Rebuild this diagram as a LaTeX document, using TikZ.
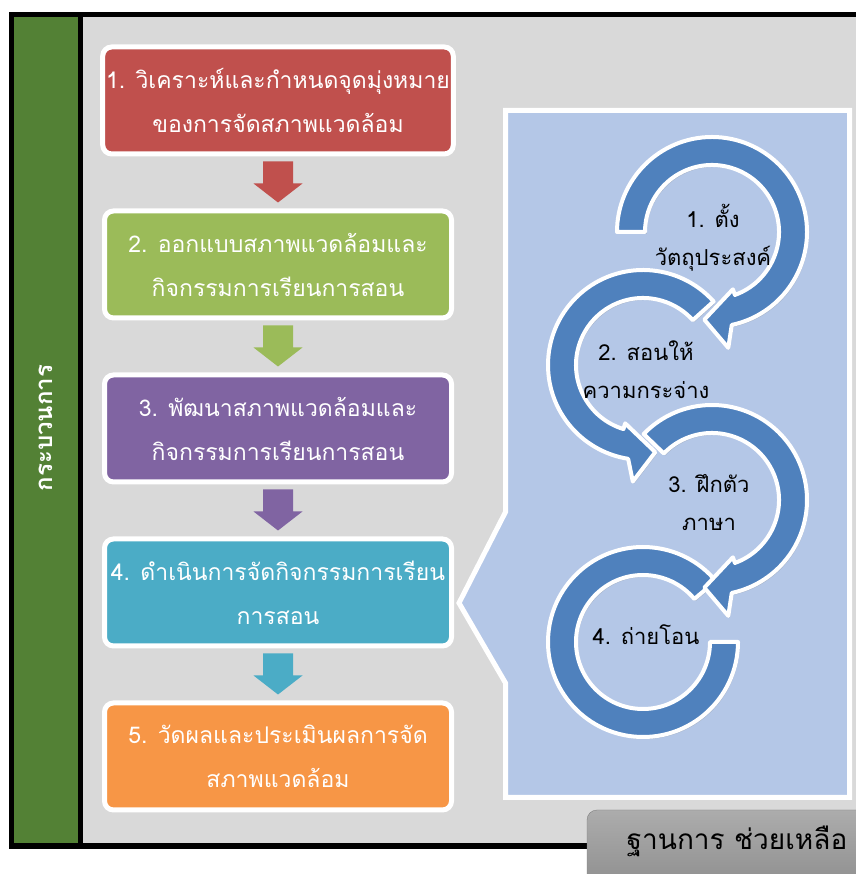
\documentclass[tikz,border=0pt]{standalone}
\usepackage{fontspec}
\newfontfamily\thai[Script=Thai]{Loma}
\usetikzlibrary{positioning,calc,shadows}

\definecolor{boxred}{HTML}{C0504D}
\definecolor{boxgreen}{HTML}{9BBB59}
\definecolor{boxpurple}{HTML}{8064A2}
\definecolor{boxaqua}{HTML}{4BACC6}
\definecolor{boxorange}{HTML}{F79646}
\definecolor{sidegreen}{HTML}{538135}
\definecolor{framegray}{HTML}{D9D9D9}
\definecolor{panelblue}{HTML}{B4C7E7}
\definecolor{ringblue}{HTML}{4F81BD}

% centre, start angle, end angle, turn (1 = anticlockwise, -1 = clockwise)
\newcommand{\ringarrow}[4]{%
  \filldraw[ring, shift={(#1)}] (#2:95) arc[start angle=#2, end angle={#3+8*(#4)}, radius=95]
    -- ({#3+12*(#4)}:117) -- ({#3+25*(#4)}:88) -- (#3:61) -- (#3:67)
    arc[start angle=#3, end angle=#2, radius=67] -- cycle;}

\begin{document}
\begin{tikzpicture}[x=1pt, y=1pt,
    stepbox/.style = {draw=white, line width=5pt, rounded corners=9pt, minimum width=347pt, minimum height=107pt,
        align=center, text=white, font=\thai\fontsize{23}{44}\selectfont},
    ring/.style = {fill=ringblue, draw=white, line width=4pt, line join=round,
        drop shadow={opacity=.3, shadow xshift=1.5pt, shadow yshift=-2pt}},
    ringtext/.style = {align=center, font=\thai\fontsize{22}{38}\selectfont}]
    \useasboundingbox (0,0) rectangle (855,874);
    \fill (9,25) rectangle (860,862);
    \fill[sidegreen] (14,31) rectangle (78,857);
    \fill[framegray] (83,31) rectangle (860,857);
    \node[rotate=90, text=white, font=\thai\bfseries\fontsize{24}{24}\selectfont] (side) at (46,446) {กระบวนการ};

    \node[stepbox, fill=boxred] (s1) at (278,773.5) {1. วิเคราะห์และกำหนดจุดมุ่งหมาย\\ของการจัดสภาพแวดล้อม};
    \node[stepbox, fill=boxgreen, below=52pt of s1] (s2) {2. ออกแบบสภาพแวดล้อมและ\\กิจกรรมการเรียนการสอน};
    \node[stepbox, fill=boxpurple, below=52pt of s2] (s3) {3. พัฒนาสภาพแวดล้อมและ\\กิจกรรมการเรียนการสอน};
    \node[stepbox, fill=boxaqua, below=52pt of s3] (s4) {4. ดำเนินการจัดกิจกรรมการเรียน\\การสอน};
    \node[stepbox, fill=boxorange, below=52pt of s4] (s5) {5. วัดผลและประเมินผลการจัด\\สภาพแวดล้อม};
    \foreach \i/\j/\c in {1/2/boxred, 2/3/boxgreen, 3/4/boxpurple, 4/5/boxaqua}
        \fill[\c] ($(s\i.south)+(-15,-5)$) -- ++(0,-22) -- ++(-9.5,0) -- ($(s\j.north)+(0,6)$)
            -- ($(s\i.south)+(24.5,-27)$) -- ++(-9.5,0) -- ++(0,22) -- cycle;

    \coordinate (tip) at (459,271);
    \filldraw[fill=panelblue, draw=white, line width=5pt] (505.5,763.5) -- (849.5,763.5) -- (849.5,76.5)
        -- (505.5,76.5) -- (505.5,191) -- (tip) -- (505.5,362) -- cycle;

    \coordinate (c1) at (712,642);
    \coordinate (c2) at (643,509);
    \coordinate (c3) at (712,374);
    \coordinate (c4) at (643,232);
    \filldraw[ring, shift={(c4)}] (40:95) arc[start angle=40, end angle=360, radius=95] -- (360:67)
        arc[start angle=360, end angle=40, radius=67] -- cycle;
    \ringarrow{c3}{136}{-70}{-1}
    \ringarrow{c2}{42}{253}{1}
    \ringarrow{c1}{180}{-70}{-1}
    \node[ringtext] (t1) at (713,636) {1. ตั้ง\\วัตถุประสงค์};
    \node[ringtext] (t2) at (646,504) {2. สอนให้\\ความกระจ่าง};
    \node[ringtext] (t3) at (709,371) {3. ฝึกตัว\\ภาษา};
    \node[ringtext] (t4) at (646,239) {4. ถ่ายโอน};

    \shade[top color=gray!65, bottom color=gray!90, draw=gray, rounded corners=10pt] (587,64) rectangle (900,-20);
    \node[font=\thai\fontsize{28}{28}\selectfont] (base) at (737,33) {ฐานการ ช่วยเหลือ};
\end{tikzpicture}
\end{document}
